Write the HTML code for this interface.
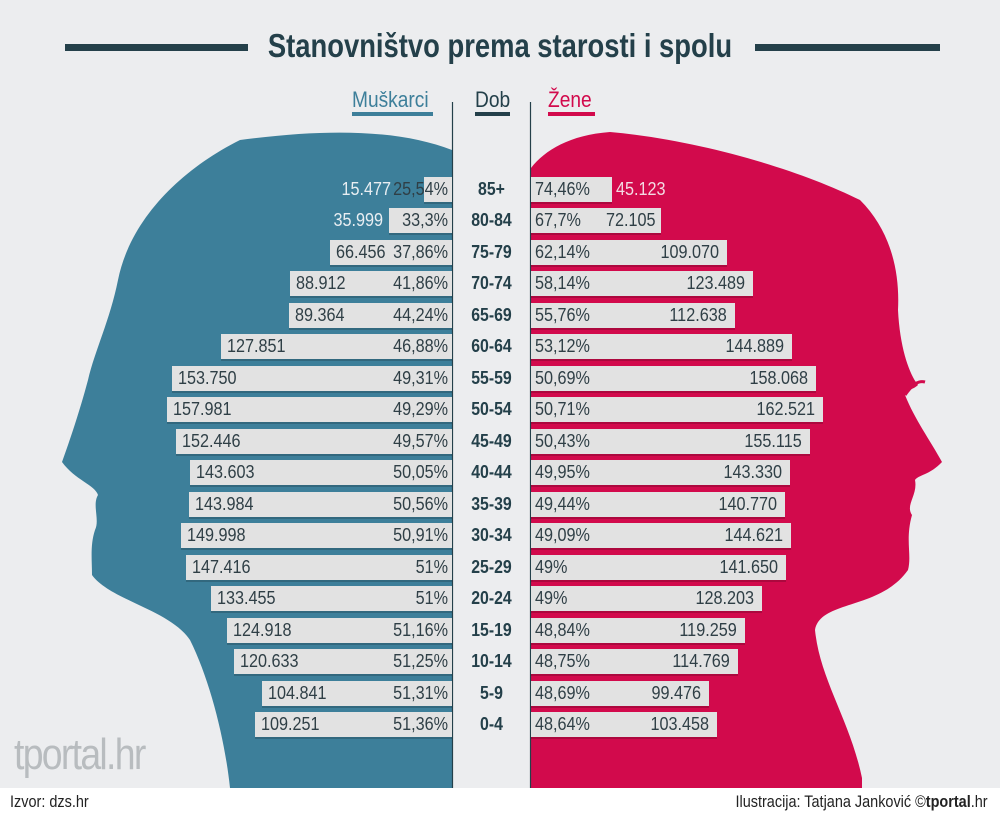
<!DOCTYPE html>
<html><head><meta charset="utf-8"><style>
body{margin:0;width:1000px;height:816px;background:#ecedef;position:relative;overflow:hidden;font-family:"Liberation Sans",sans-serif;}
.t{position:absolute;white-space:nowrap}
.bar{position:absolute;height:25px;background:#e2e2e2;box-shadow:0 2px 0 rgba(0,0,0,0.18)}
.n{position:absolute;font-size:18px;color:#2f3f46;line-height:25px;white-space:nowrap;transform:scaleX(.9)}
.L{transform-origin:left center}
.R{transform-origin:right center}
.age{position:absolute;left:452px;width:79px;text-align:center;font-size:18px;font-weight:bold;color:#24404a;line-height:25px;transform:scaleX(.88)}
</style></head><body>
<svg width="1000" height="816" style="position:absolute;left:0;top:0">
<path d="M452,150 C400,130 330,128 240,140 C180,170 130,220 118,280 C110,320 95,350 88,380 C80,410 70,440 62,462 C75,480 95,485 98,495 C92,505 100,520 95,530 C90,545 92,560 92,575 C110,600 170,610 190,640 C210,680 225,740 230,788 L452,788 Z" fill="#3d7f9a"/>
<path d="M531,168 C545,150 570,135 610,132 C700,140 800,170 860,200 C890,230 900,270 898,310 C900,350 910,375 918,385 C913,390 905,390 905,395 C915,420 930,440 942,462 C930,475 918,475 915,480 C918,495 905,505 912,515 C905,540 912,555 908,570 C880,610 820,600 815,630 C820,680 850,720 862,778 L862,788 L531,788 Z" fill="#d20a4c"/>
<path d="M905,395 C912,385 918,380 925,382" stroke="#d20a4c" stroke-width="3" fill="none"/>
<rect x="0" y="788" width="1000" height="28" fill="#fff"/>
<line x1="452.5" y1="102" x2="452.5" y2="788" stroke="#24404a" stroke-width="1.2"/>
<line x1="530.5" y1="102" x2="530.5" y2="788" stroke="#24404a" stroke-width="1.2"/>
<rect x="65" y="44" width="183" height="7" fill="#24404a"/>
<rect x="755" y="44" width="185" height="7" fill="#24404a"/>
<rect x="352" y="112" width="81" height="4" fill="#3d7f9a"/>
<rect x="475" y="112" width="35" height="4" fill="#24404a"/>
<rect x="548" y="112" width="47" height="4" fill="#d20a4c"/>
</svg>
<div class="t" style="left:0;width:1000px;text-align:center;top:27px;font-size:33px;font-weight:bold;color:#24404a;transform:scaleX(.83)">Stanovništvo prema starosti i spolu</div>
<div class="t" style="left:352px;top:87px;font-size:22px;color:#3d7f9a;transform:scaleX(.87);transform-origin:left">Muškarci</div>
<div class="t" style="left:475px;top:87px;font-size:22px;color:#24404a;transform:scaleX(.87);transform-origin:left">Dob</div>
<div class="t" style="left:548px;top:87px;font-size:22px;color:#d20a4c;transform:scaleX(.87);transform-origin:left">Žene</div>
<div class="t" style="left:14px;top:730px;font-size:44px;color:#b8bcbf;letter-spacing:-2px;transform:scaleX(.85);transform-origin:left">tportal.hr</div>
<div class="t" style="left:10px;top:792px;font-size:17px;color:#222;transform:scaleX(.85);transform-origin:left">Izvor: dzs.hr</div>
<div class="t" style="right:12px;top:792px;font-size:17px;color:#222;transform:scaleX(.85);transform-origin:right">Ilustracija: Tatjana Janković ©<b>tportal</b>.hr</div>
<div id="rows"></div>
<script>
var d=[["85+",424,"15.477","25,54%","74,46%","45.123",612],
["80-84",389,"35.999","33,3%","67,7%","72.105",661],
["75-79",330,"66.456","37,86%","62,14%","109.070",727],
["70-74",290,"88.912","41,86%","58,14%","123.489",753],
["65-69",289,"89.364","44,24%","55,76%","112.638",735],
["60-64",221,"127.851","46,88%","53,12%","144.889",792],
["55-59",172,"153.750","49,31%","50,69%","158.068",816],
["50-54",167,"157.981","49,29%","50,71%","162.521",823],
["45-49",176,"152.446","49,57%","50,43%","155.115",810],
["40-44",190,"143.603","50,05%","49,95%","143.330",790],
["35-39",189,"143.984","50,56%","49,44%","140.770",785],
["30-34",181,"149.998","50,91%","49,09%","144.621",791],
["25-29",186,"147.416","51%","49%","141.650",786],
["20-24",211,"133.455","51%","49%","128.203",762],
["15-19",227,"124.918","51,16%","48,84%","119.259",745],
["10-14",234,"120.633","51,25%","48,75%","114.769",738],
["5-9",262,"104.841","51,31%","48,69%","99.476",709],
["0-4",255,"109.251","51,36%","48,64%","103.458",717]];
var h="";
d.forEach(function(r,i){var y=Math.round(177+i*31.47);
h+='<div class="bar" style="left:'+r[1]+'px;width:'+(452-r[1])+'px;top:'+y+'px"></div>';
h+='<div class="bar" style="left:531px;width:'+(r[6]-531)+'px;top:'+y+'px"></div>';
h+='<div class="age" style="top:'+y+'px">'+r[0]+'</div>';
h+='<div class="n R" style="right:'+(1000-448)+'px;top:'+y+'px">'+r[3]+'</div>';
h+='<div class="n L" style="left:535px;top:'+y+'px">'+r[4]+'</div>';
if(i<2){h+='<div class="n R" style="right:'+(i==0?609:617)+'px;top:'+y+'px;color:#e8eef2">'+r[2]+'</div>';
 h+='<div class="n L" style="left:'+(i==0?616:606)+'px;top:'+y+'px;color:'+(i==0?'#f3dbe3':'#2f3f46')+'">'+r[5]+'</div>';}
else{h+='<div class="n L" style="left:'+(r[1]+6)+'px;top:'+y+'px">'+r[2]+'</div>';
 h+='<div class="n R" style="right:'+(1000-r[6]+8)+'px;top:'+y+'px">'+r[5]+'</div>';}
});
document.getElementById("rows").innerHTML=h;
</script>
</body></html>
